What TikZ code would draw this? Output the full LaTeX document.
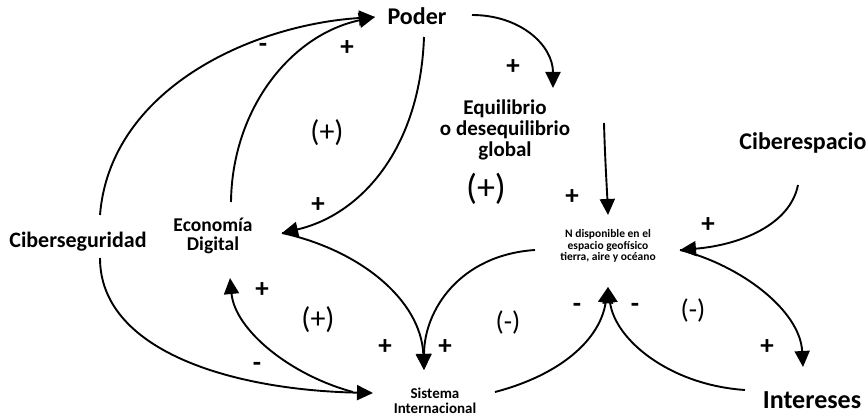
\documentclass[tikz,border=0pt]{standalone}
\usepackage{fontspec}
\setmainfont{Carlito}
\usepackage{tikz}
\usetikzlibrary{arrows.meta}

\tikzset{
	lnk/.style={line width=1.9pt,-{Triangle[length=16pt,width=15pt]}},
	var/.style={inner sep=0pt,align=center,font=\bfseries\fontsize{#1}{#1}\selectfont},
	sgn/.style={inner sep=0pt,font=\bfseries\fontsize{27}{27}\selectfont},
	lp/.style={inner sep=0pt,font=\fontsize{#1}{#1}\selectfont},
}

\begin{document}
\begin{tikzpicture}[x=1pt,y=-1pt]
	\useasboundingbox (0,0) rectangle (868,419);
	% variables
	\node[var=24] (poder) at (417,16) {Poder};
	\node[var=21,align=center] (equil) at (505,130) {\fontsize{21}{25}\selectfont Equilibrio\\o desequilibrio\\global};
	\node[var=24] (cesp) at (803,143) {Ciberespacio};
	\node[var=22] (cseg) at (78,242) {Ciberseguridad};
	\node[var=19.5] (econ) at (213,236) {\fontsize{19.5}{22}\selectfont Econom\'ia\\Digital};
	\node[var=11.5] (ndisp) at (608,246) {\fontsize{11.5}{12.8}\selectfont N disponible en el\\espacio geof\'isico\\tierra, aire y oc\'eano};
	\node[var=15] (sist) at (435,401) {\fontsize{15}{17}\selectfont Sistema\\Internacional};
	\node[var=26] (inter) at (812,400) {Intereses};
	% links
	\draw[lnk] ([shift={(22,-27)}]cseg.center) .. controls +(10,-125) and +(-125,8) .. ([shift={(-42,1)}]poder.center);
	\draw[lnk] ([shift={(18,-34)}]econ.center) .. controls +(1,-92) and +(-85,18) .. ([shift={(-42,1)}]poder.center);
	\draw[lnk] ([shift={(7,21)}]poder.center) .. controls +(-4,113) and +(78,-18) .. ([shift={(69,-3)}]econ.center);
	\draw[lnk] ([shift={(55,-1)}]poder.center) .. controls +(48,0) and +(0,-43) .. ([shift={(48,-42)}]equil.center);
	\draw[lnk] ([shift={(99,-7)}]equil.center) .. controls +(1,37) and +(-1,-25) .. ([shift={(0,-31)}]ndisp.center);
	\draw[lnk] ([shift={(-5,42)}]cesp.center) .. controls +(-8,40) and +(60,-5) .. ([shift={(72,4)}]ndisp.center);
	\draw[lnk] ([shift={(72,4)}]ndisp.center) .. controls +(60,15) and +(-3,-57) .. ([shift={(-9,-33)}]inter.center);
	\draw[lnk] ([shift={(-67,-10)}]inter.center) .. controls +(-75,-5) and +(7,53) .. ([shift={(0,41)}]ndisp.center);
	\draw[lnk] ([shift={(60,-9)}]sist.center) .. controls +(65,-17) and +(-8,53) .. ([shift={(0,41)}]ndisp.center);
	\draw[lnk] ([shift={(-73,4)}]ndisp.center) .. controls +(-75,5) and +(0,-60) .. ([shift={(-11,-31)}]sist.center);
	\draw[lnk] ([shift={(69,-3)}]econ.center) .. controls +(78,17) and +(-3,-70) .. ([shift={(-11,-31)}]sist.center);
	\draw[lnk] ([shift={(-82,-9)}]sist.center) .. controls +(-63,-17) and +(5,52) .. ([shift={(17,42)}]econ.center);
	\draw[lnk] ([shift={(22,16)}]cseg.center) .. controls +(0,92) and +(-143,-3) .. ([shift={(-62,-8)}]sist.center);
	% signs
	\node[sgn] (s1) at (263,48) {-};
	\node[sgn] (s2) at (347,48) {+};
	\node[sgn] (s3) at (513,67) {+};
	\node[sgn] (s4) at (318,205) {+};
	\node[sgn] (s5) at (572,197) {+};
	\node[sgn] (s6) at (708,225) {+};
	\node[sgn] (s7) at (262,290) {+};
	\node[sgn] (s8) at (385,347) {+};
	\node[sgn] (s9) at (445,347) {+};
	\node[sgn] (s10) at (257,367) {-};
	\node[sgn] (s11) at (577,308) {-};
	\node[sgn] (s12) at (635,308) {-};
	\node[sgn] (s13) at (767,347) {+};
	% loops
	\node[lp=30] (r1) at (327,133) {(+)};
	\node[lp=36] (r2) at (486,189) {(+)};
	\node[lp=30] (r3) at (318,320) {(+)};
	\node[lp=27] (r4) at (508,322) {(-)};
	\node[lp=27] (r5) at (693,310) {(-)};
\end{tikzpicture}
\end{document}
